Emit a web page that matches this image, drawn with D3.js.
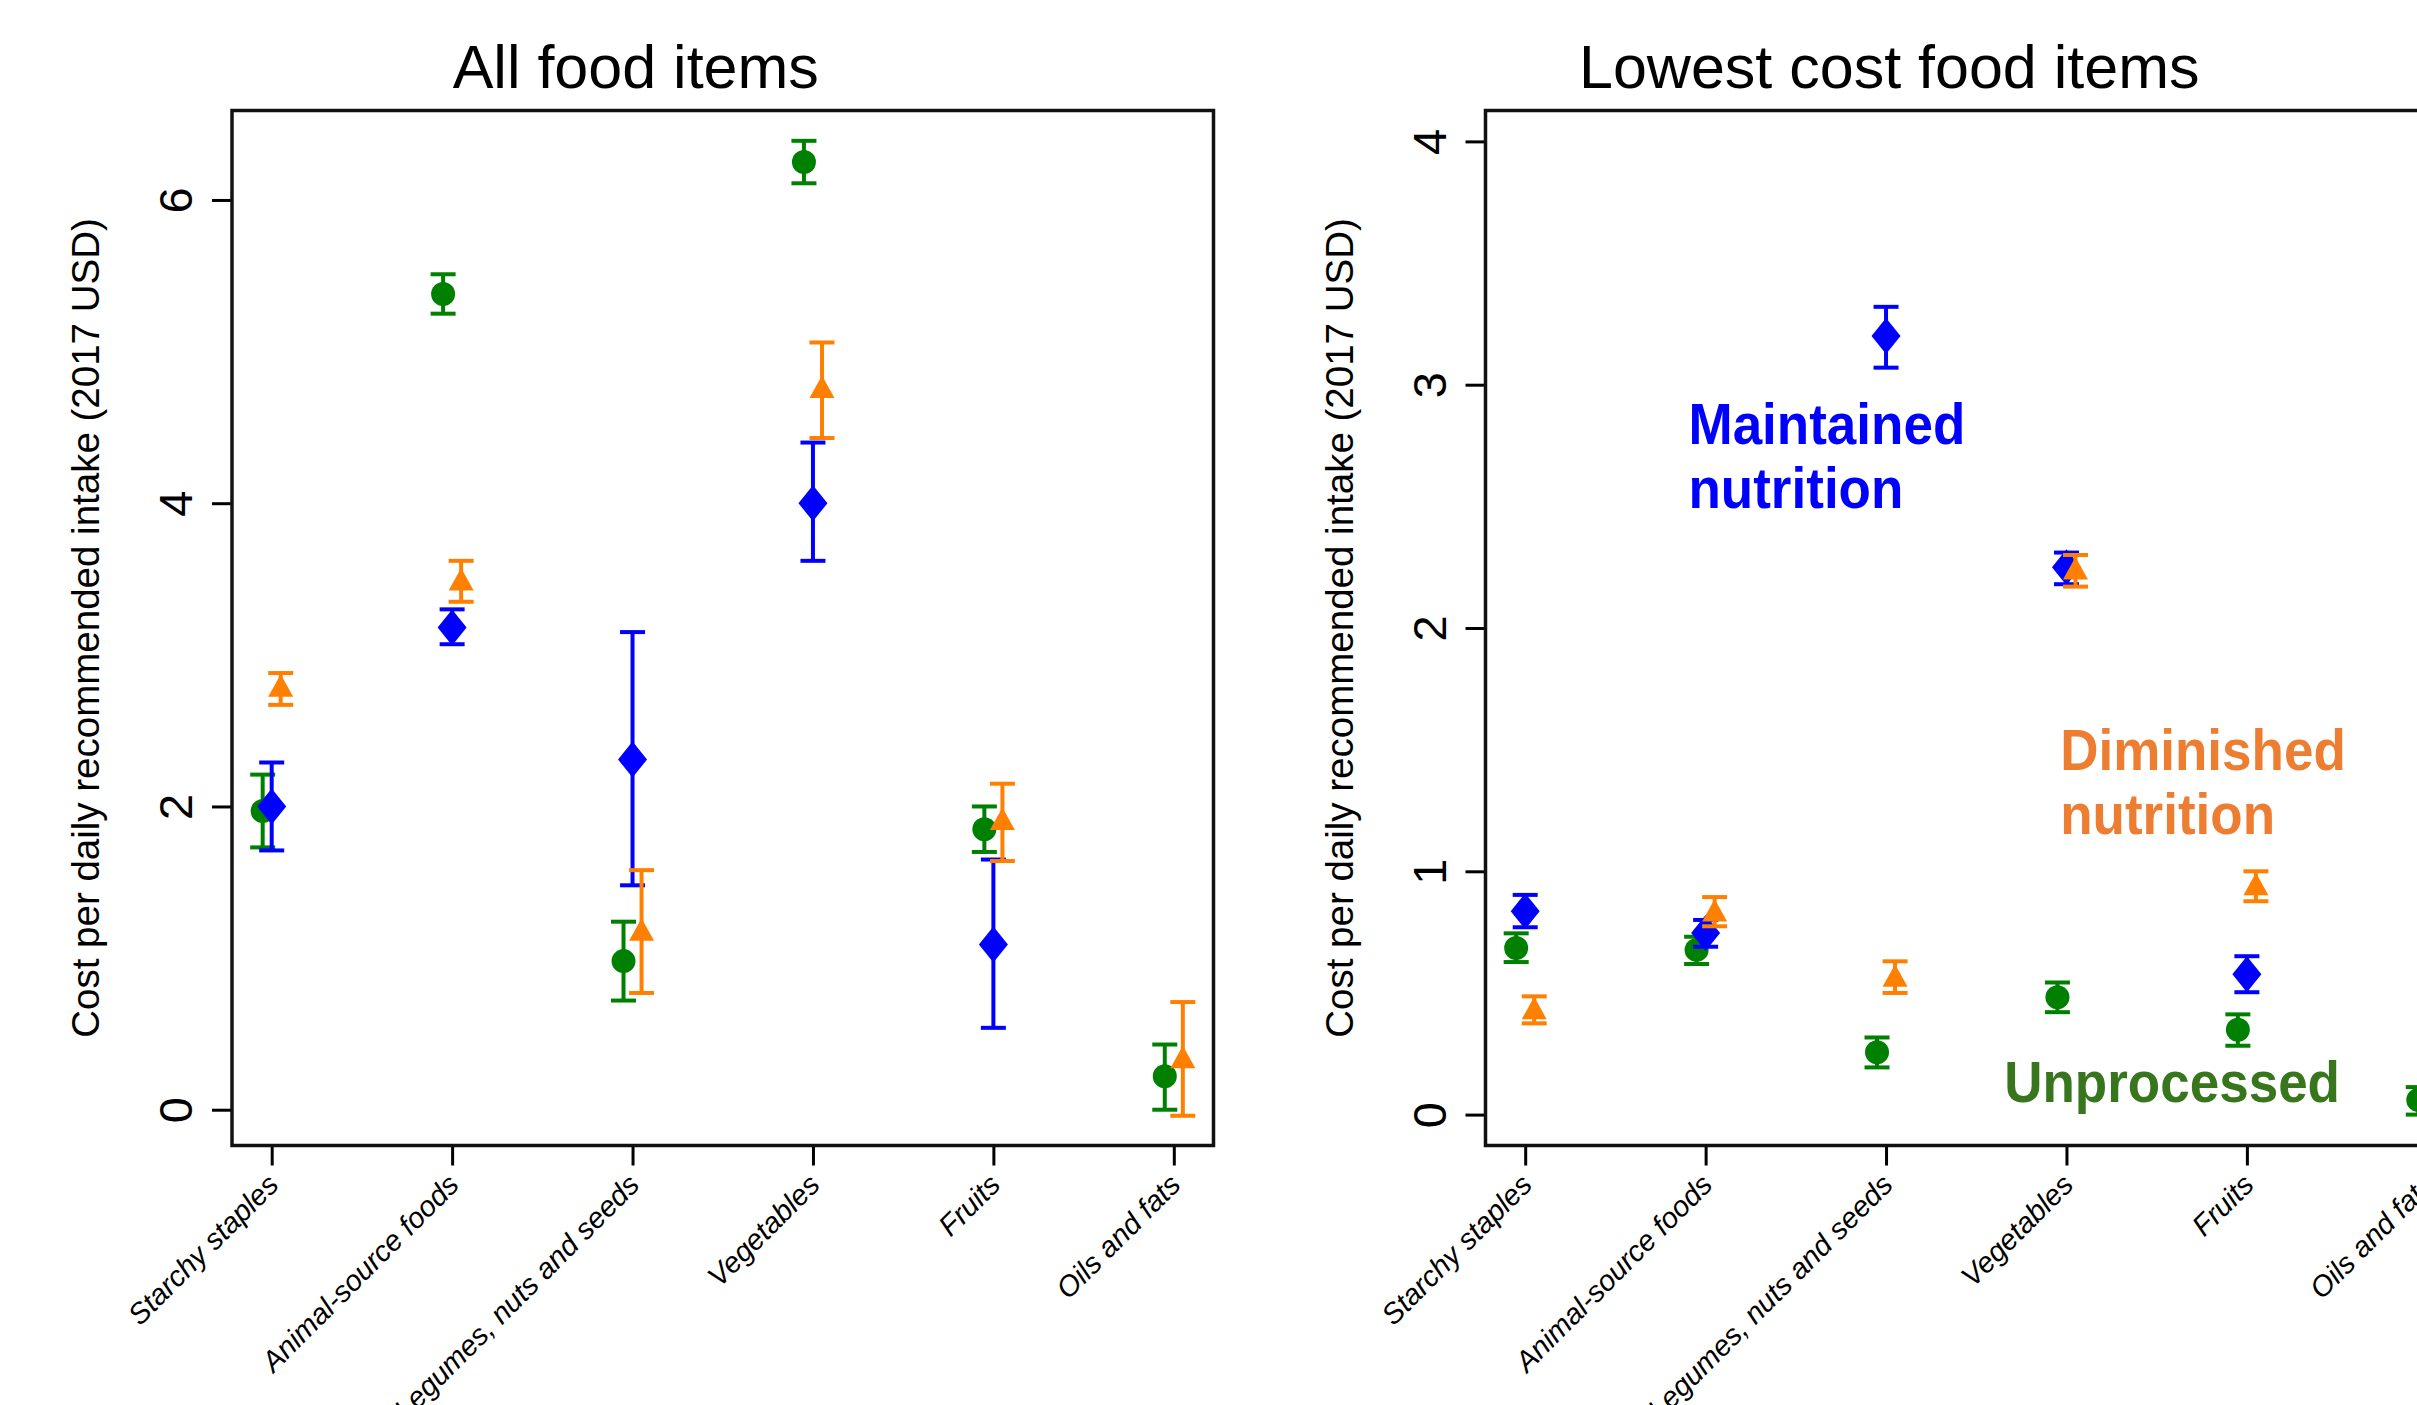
<!DOCTYPE html>
<html>
<head>
<meta charset="utf-8">
<script src="https://cdn.jsdelivr.net/npm/d3@7"></script>
<style>
  html, body { margin: 0; padding: 0; background: #fff; }
  svg { display: block; font-family: "Liberation Sans", Arial, Helvetica, sans-serif; }
</style>
</head>
<body>
<div id="chart"></div>
<script>
// Food groups on the x axis
const categories = ["Starchy staples", "Animal-source foods", "Legumes, nuts and seeds", "Vegetables", "Fruits", "Oils and fats"];

// Panel A: all food items (mean, lower CI, upper CI)
const allUnprocessed = [1.97, 5.38, 0.98, 6.25, 1.85, 0.22];
const allUnprocessedLo = [1.73, 5.25, 0.72, 6.11, 1.70, 0.00];
const allUnprocessedHi = [2.21, 5.51, 1.24, 6.39, 2.00, 0.43];
const allMaintained = [2.00, 3.18, 2.31, 4.00, 1.09, null];
const allMaintainedLo = [1.71, 3.07, 1.48, 3.62, 0.54, null];
const allMaintainedHi = [2.29, 3.30, 3.15, 4.40, 1.65, null];
const allDiminished = [2.79, 3.49, 1.18, 4.76, 1.91, 0.34];
const allDiminishedLo = [2.67, 3.35, 0.77, 4.43, 1.64, -0.04];
const allDiminishedHi = [2.88, 3.62, 1.58, 5.06, 2.15, 0.71];

// Panel B: lowest cost food items
const lowUnprocessed = [0.685, 0.677, 0.256, 0.482, 0.349, 0.06];
const lowUnprocessedLo = [0.627, 0.619, 0.194, 0.421, 0.283, 0.00];
const lowUnprocessedHi = [0.745, 0.731, 0.317, 0.543, 0.412, 0.113];
const lowMaintained = [0.836, 0.746, 3.20, 2.25, 0.577, null];
const lowMaintainedLo = [0.770, 0.690, 3.07, 2.18, 0.503, null];
const lowMaintainedHi = [0.903, 0.800, 3.32, 2.31, 0.651, null];
const lowDiminished = [0.433, 0.835, 0.567, 2.24, 0.943, null];
const lowDiminishedLo = [0.375, 0.774, 0.500, 2.17, 0.877, null];
const lowDiminishedHi = [0.486, 0.894, 0.630, 2.30, 1.000, null];

// Y tick values per panel
const allTicks = [0, 2, 4, 6];
const lowTicks = [0, 1, 2, 3, 4];

const W = 2417, H = 1405;
const svg = d3.select("#chart").append("svg")
    .attr("width", W)
    .attr("height", H);
svg.append("rect").attr("width", W).attr("height", H).attr("fill", "#fff");

// series styling: offset in category units, colour, marker
const seriesStyle = {
    unprocessed: { dx: -0.05, color: "#008000", shape: "circle" },
    maintained: { dx: 0, color: "#0000ff", shape: "diamond" },
    diminished: { dx: 0.05, color: "#ff8000", shape: "triangle" }
};

function buildSeries(mean, lo, hi) {
    return categories.map((c, i) => ({ i: i + 1, v: mean[i], lo: lo[i], hi: hi[i] }))
        .filter(d => d.v !== null);
}

function drawPanel(opts) {
    const frameTop = 110.5, frameH = 1035, frameW = 981.5;
    const left = opts.left;

    const x = d3.scaleLinear().domain([0.78, 6.22]).range([left, left + frameW]);
    const y = d3.scaleLinear().domain(opts.yDomain).range([frameTop + frameH, frameTop]);

    const g = svg.append("g");

    // Title
    g.append("text")
        .attr("x", left + frameW / 2 - 87)
        .attr("y", 88)
        .attr("text-anchor", "middle")
        .style("font-size", "61px")
        .attr("fill", "#000")
        .text(opts.title);

    // Y axis label
    g.append("text")
        .attr("transform", `translate(${left - 133}, ${frameTop + frameH / 2}) rotate(-90)`)
        .attr("text-anchor", "middle")
        .style("font-size", "38.5px")
        .attr("fill", "#000")
        .text("Cost per daily recommended intake (2017 USD)");

    // Y axis
    const yAxis = g.append("g")
        .attr("transform", `translate(${left}, 0)`)
        .call(d3.axisLeft(y).tickValues(opts.yTicks).tickSize(20).tickFormat(d3.format("d")));
    yAxis.select(".domain").remove();
    yAxis.selectAll(".tick line").attr("stroke", "#000").attr("stroke-width", 3);
    yAxis.selectAll(".tick text")
        .attr("transform", "rotate(-90)")
        .attr("x", 0)
        .attr("y", -40)
        .attr("dy", 0)
        .attr("text-anchor", "middle")
        .attr("fill", "#000")
        .style("font-size", "47px")
        .style("font-family", "'Liberation Sans', Arial, sans-serif");

    // X axis
    const xAxis = g.append("g")
        .attr("transform", `translate(0, ${frameTop + frameH})`)
        .call(d3.axisBottom(x).tickValues(d3.range(1, 7)).tickSize(20).tickFormat(d => categories[d - 1]));
    xAxis.select(".domain").remove();
    xAxis.selectAll(".tick line").attr("stroke", "#000").attr("stroke-width", 3);
    xAxis.selectAll(".tick text")
        .attr("transform", "translate(8, 41) rotate(-45)")
        .attr("x", 0)
        .attr("y", 0)
        .attr("dy", 0)
        .attr("text-anchor", "end")
        .attr("fill", "#000")
        .style("font-size", "29px")
        .style("font-style", "italic")
        .style("font-family", "'Liberation Sans', Arial, sans-serif");

    // Plot frame
    g.append("rect")
        .attr("x", left)
        .attr("y", frameTop)
        .attr("width", frameW)
        .attr("height", frameH)
        .attr("fill", "none")
        .attr("stroke", "#111")
        .attr("stroke-width", 3.5);

    // Series: error bars then markers
    opts.series.forEach(s => {
        const st = seriesStyle[s.key];
        const sg = g.append("g").attr("class", "series-" + s.key);
        const cap = 12.5;

        sg.selectAll(".bar").data(s.data).join("line")
            .attr("x1", d => x(d.i + st.dx)).attr("x2", d => x(d.i + st.dx))
            .attr("y1", d => y(d.lo)).attr("y2", d => y(d.hi))
            .attr("stroke", st.color).attr("stroke-width", 4);
        sg.selectAll(".capLo").data(s.data).join("line")
            .attr("x1", d => x(d.i + st.dx) - cap).attr("x2", d => x(d.i + st.dx) + cap)
            .attr("y1", d => y(d.lo)).attr("y2", d => y(d.lo))
            .attr("stroke", st.color).attr("stroke-width", 4);
        sg.selectAll(".capHi").data(s.data).join("line")
            .attr("x1", d => x(d.i + st.dx) - cap).attr("x2", d => x(d.i + st.dx) + cap)
            .attr("y1", d => y(d.hi)).attr("y2", d => y(d.hi))
            .attr("stroke", st.color).attr("stroke-width", 4);

        const marks = sg.selectAll(".mark").data(s.data).join("path")
            .attr("fill", st.color)
            .attr("transform", d => `translate(${x(d.i + st.dx)}, ${y(d.v)})`);
        if (st.shape === "circle") {
            marks.attr("d", d3.arc()({ innerRadius: 0, outerRadius: 12, startAngle: 0, endAngle: 2 * Math.PI }));
        } else if (st.shape === "diamond") {
            marks.attr("d", "M0,-18L14.5,0L0,18L-14.5,0Z");
        } else {
            marks.attr("d", "M0,-12.5L12.5,10L-12.5,10Z");
        }
    });

    return { x, y, g };
}

const panelA = drawPanel({
    left: 232,
    title: "All food items",
    yDomain: [-0.236, 6.59],
    yTicks: allTicks,
    series: [
        { key: "unprocessed", data: buildSeries(allUnprocessed, allUnprocessedLo, allUnprocessedHi) },
        { key: "maintained", data: buildSeries(allMaintained, allMaintainedLo, allMaintainedHi) },
        { key: "diminished", data: buildSeries(allDiminished, allDiminishedLo, allDiminishedHi) }
    ]
});

const panelB = drawPanel({
    left: 1485.5,
    title: "Lowest cost food items",
    yDomain: [-0.127, 4.127],
    yTicks: lowTicks,
    series: [
        { key: "unprocessed", data: buildSeries(lowUnprocessed, lowUnprocessedLo, lowUnprocessedHi) },
        { key: "maintained", data: buildSeries(lowMaintained, lowMaintainedLo, lowMaintainedHi) },
        { key: "diminished", data: buildSeries(lowDiminished, lowDiminishedLo, lowDiminishedHi) }
    ]
});

// Series annotations in panel B (placed in data coordinates)
const notes = [
    { lines: ["Maintained", "nutrition"], xv: 1.905, yv: 2.756, color: "#0000ff" },
    { lines: ["Diminished", "nutrition"], xv: 3.965, yv: 1.415, color: "#ed7d31" },
    { lines: ["Unprocessed"], xv: 3.655, yv: 0.051, color: "#38761d" }
];
notes.forEach(n => {
    const px = panelB.x(n.xv), py = panelB.y(n.yv);
    const t = panelB.g.append("text")
        .attr("transform", `translate(${px}, ${py}) scale(0.93, 1)`)
        .attr("fill", n.color)
        .style("font-size", "57px")
        .style("font-weight", "bold");
    n.lines.forEach((l, k) => {
        t.append("tspan").attr("x", 0).attr("dy", k === 0 ? 0 : 64).text(l);
    });
});
</script>
</body>
</html>
